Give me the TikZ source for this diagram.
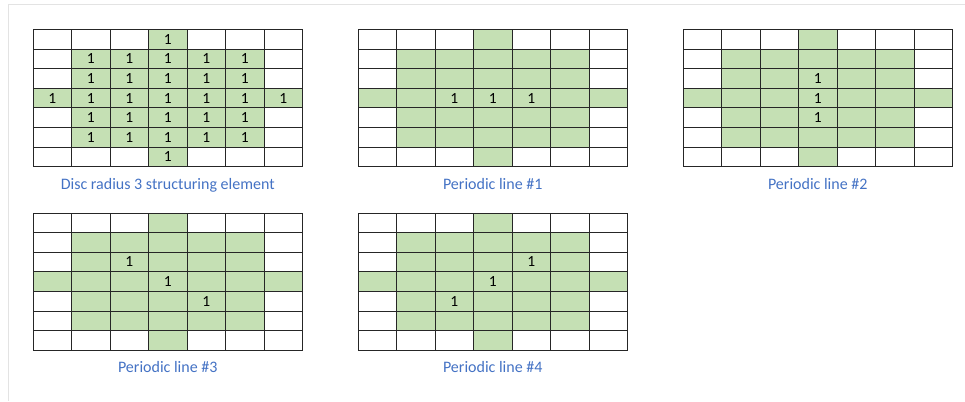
\documentclass[tikz,border=0pt]{standalone}
\usepackage{fontspec}
\setmainfont{Carlito}
\usepackage{xcolor}
\usepackage{tikz}
\usetikzlibrary{positioning}

\definecolor{cellgreen}{HTML}{C5E0B4}
\definecolor{capblue}{HTML}{4472C4}
\definecolor{framegray}{HTML}{E3E3E3}

% 7x7 structuring element grid: name, left x, top y
\newcommand{\segrid}[3]{%
  \foreach \r in {0,...,6} {
    \foreach \c in {0,...,6} {
      \pgfmathtruncatemacro{\ingreen}{(\c==3) || (\r==3) || (\r>0 && \r<6 && \c>0 && \c<6)}
      \ifnum\ingreen=1 \def\cellfill{cellgreen}\else\def\cellfill{white}\fi
      \node[cell, fill=\cellfill] (#1-\r-\c) at (#2+\c*38.5+19.25, #3+\r*19.6+9.8) {};
    }
  }
}

\begin{document}
\begin{tikzpicture}[x=1pt, y=-1pt,
    cell/.style={draw=black!85, line width=0.9pt, minimum width=38.5pt, minimum height=19.6pt, inner sep=0pt, outer sep=0pt},
    one/.style={inner sep=0pt, font=\fontsize{15.5}{17}\selectfont},
    caption/.style={inner sep=0pt, text=capblue, font=\fontsize{16}{18}\selectfont}]
  \useasboundingbox (0,0) rectangle (965,401);

  % open frame on top and left
  \draw[framegray, line width=1pt] (8,401) -- (8,5) -- (965,5);

  % grids
  \segrid{ga}{33}{29.5}
  \segrid{gb}{358}{29.5}
  \segrid{gc}{683}{29.5}
  \segrid{gd}{33}{213}
  \segrid{ge}{358}{213}

  % Disc: ones in every green cell
  \foreach \r in {0,...,6} {
    \foreach \c in {0,...,6} {
      \pgfmathtruncatemacro{\ingreen}{(\c==3) || (\r==3) || (\r>0 && \r<6 && \c>0 && \c<6)}
      \ifnum\ingreen=1 \node[one] (ga-one-\r-\c) at (ga-\r-\c) {1};\fi
    }
  }

  % Periodic lines
  \foreach \c in {2,3,4} \node[one] (gb-one-\c) at (gb-3-\c) {1};
  \foreach \r in {2,3,4} \node[one] (gc-one-\r) at (gc-\r-3) {1};
  \foreach \r/\c in {2/2,3/3,4/4} \node[one] (gd-one-\r) at (gd-\r-\c) {1};
  \foreach \r/\c in {2/4,3/3,4/2} \node[one] (ge-one-\r) at (ge-\r-\c) {1};

  % captions
  \node[caption, below=11pt of ga-6-3] (capa) {Disc radius 3 structuring element};
  \node[caption, below=11pt of gb-6-3] (capb) {Periodic line \#1};
  \node[caption, below=11pt of gc-6-3] (capc) {Periodic line \#2};
  \node[caption, below=11pt of gd-6-3] (capd) {Periodic line \#3};
  \node[caption, below=11pt of ge-6-3] (cape) {Periodic line \#4};
\end{tikzpicture}
\end{document}
